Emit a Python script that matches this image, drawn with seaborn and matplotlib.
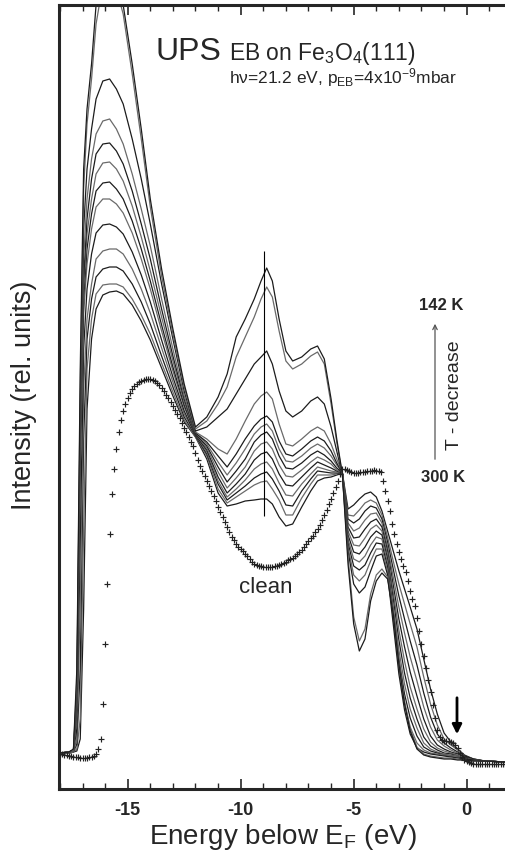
import numpy as np
import pandas as pd
import matplotlib
matplotlib.use("Agg")
import matplotlib.pyplot as plt
from matplotlib.ticker import MultipleLocator
import seaborn as sns

# ---------------- data (intensity in relative units) ----------------
# common energy grid for the temperature series (eV below E_F)
E_T = [-18.0, -17.6, -17.4, -17.25, -17.1, -16.95, -16.8, -16.6, -16.4, -16.1,
       -15.8, -15.5,
       -15.2, -14.8, -14.4, -14.0, -13.5, -13.0, -12.5, -12.0,
       -11.5, -11.0, -10.6, -10.2, -9.8, -9.4, -9.1, -8.85, -8.6, -8.3,
       -8.0, -7.7, -7.3, -6.9, -6.6, -6.3, -6.0, -5.75, -5.5,
       -5.25, -5.0, -4.75, -4.5, -4.25, -4.0, -3.75, -3.5, -3.25, -3.0,
       -2.75, -2.5, -2.2, -1.9, -1.6, -1.3, -1.0, -0.7, -0.4, -0.1, 0.3, 0.8, 1.7]

I_300K = [36, 36, 37, 38, 50, 180, 380, 450, 480, 494,
          497, 498,
          495, 484, 468, 449, 421, 393, 367, 352,
          330, 296, 283, 285, 288, 289, 290, 290, 285, 272, 263, 265, 282, 298, 308, 311, 312, 314, 316,
          280, 284, 290, 295, 297, 292, 278, 258, 238, 218, 200, 182, 160, 130, 100, 75, 56, 47, 40, 34, 30, 28, 27]
I_T02 = [36, 36, 37, 40, 70, 260, 420, 470, 495, 504,
         505, 505,
         502, 490, 474, 455, 426, 397, 369, 352,
         333, 300, 286, 292, 298, 304, 307, 308, 300, 289, 274, 274, 291, 305, 314, 314, 314, 315, 316,
         274, 273, 279, 286, 289, 286, 274, 252, 228, 205, 185, 165, 142, 112, 85, 64, 50, 44, 39, 33, 30, 28, 27]
I_T03 = [36, 36, 37, 45, 120, 350, 450, 490, 512, 520,
         522, 522,
         518, 505, 487, 465, 433, 402, 372, 353,
         335, 305, 289, 296, 303, 311, 315, 317, 310, 298, 284, 283, 298, 310, 318, 317, 316, 316, 316,
         270, 266, 270, 278, 283, 281, 270, 247, 220, 193, 170, 148, 124, 96, 72, 55, 46, 41, 37, 33, 30, 28, 27]
I_T04 = [36, 36, 37, 50, 180, 400, 470, 505, 530, 538,
         540, 540,
         535, 520, 500, 476, 441, 407, 375, 354,
         337, 308, 292, 300, 309, 320, 325, 327, 320, 306, 294, 293, 305, 315, 322, 320, 318, 317, 316,
         266, 258, 261, 269, 275, 276, 266, 242, 212, 182, 156, 132, 108, 82, 62, 49, 43, 39, 36, 32, 29, 28, 27]
I_T05 = [36, 37, 38, 60, 250, 440, 500, 535, 556, 564,
         565, 562,
         555, 537, 514, 487, 449, 412, 378, 354,
         339, 312, 296, 305, 315, 329, 335, 337, 330, 315, 304, 303, 312, 321, 327, 324, 321, 318, 316,
         262, 251, 252, 260, 267, 270, 262, 238, 204, 170, 142, 117, 93, 70, 53, 44, 40, 37, 35, 32, 29, 28, 27]
I_T06 = [36, 37, 38, 75, 320, 475, 525, 560, 582, 590,
         590, 585,
         576, 556, 530, 500, 458, 418, 382, 355,
         341, 317, 301, 311, 322, 338, 345, 347, 340, 324, 313, 312, 319, 327, 332, 329, 325, 319, 316,
         258, 244, 243, 251, 260, 264, 258, 234, 197, 159, 128, 102, 80, 60, 47, 41, 38, 36, 34, 31, 29, 28, 27]
I_T07 = [36, 37, 38, 80, 330, 490, 540, 575, 598, 606,
         607, 600,
         590, 568, 540, 508, 464, 422, 384, 355,
         343, 322, 307, 318, 330, 347, 354, 357, 350, 333, 321, 320, 326, 334, 338, 334, 328, 321, 316,
         254, 237, 235, 242, 252, 258, 254, 230, 190, 149, 116, 91, 70, 52, 43, 39, 36, 35, 33, 31, 29, 28, 27]
I_T08 = [36, 37, 38, 85, 340, 500, 555, 590, 615, 626,
         627, 620,
         608, 583, 552, 518, 472, 428, 387, 356,
         345, 327, 314, 326, 340, 355, 362, 365, 358, 340, 328, 327, 333, 341, 345, 341, 333, 324, 316,
         250, 230, 227, 233, 244, 252, 250, 226, 183, 139, 105, 80, 61, 46, 40, 37, 35, 34, 33, 31, 29, 28, 27]
I_T09 = [36, 37, 39, 90, 350, 510, 570, 610, 635, 645,
         646, 638,
         625, 598, 565, 530, 480, 433, 390, 356,
         347, 333, 322, 335, 350, 363, 370, 373, 367, 348, 335, 333, 340, 348, 352, 348, 338, 326, 316,
         246, 223, 219, 224, 236, 246, 245, 222, 176, 130, 95, 71, 53, 42, 38, 36, 34, 33, 32, 30, 29, 28, 27]
I_T10 = [36, 37, 39, 95, 360, 530, 590, 630, 655, 668,
         670, 660,
         645, 615, 580, 543, 490, 440, 393, 357,
         350, 340, 335, 350, 368, 385, 393, 397, 390, 365, 345, 343, 350, 358, 362, 358, 345, 330, 316,
         242, 214, 208, 214, 228, 240, 240, 218, 170, 122, 86, 62, 46, 39, 36, 35, 34, 33, 32, 30, 29, 28, 27]
I_T11 = [36, 37, 39, 100, 380, 560, 620, 660, 690, 708,
         710, 700,
         685, 650, 610, 565, 505, 450, 398, 358,
         362, 372, 380, 395, 410, 425, 432, 438, 425, 398, 378, 372, 378, 388, 392, 385, 362, 338, 314,
         238, 205, 196, 202, 218, 233, 235, 214, 165, 115, 79, 55, 41, 37, 35, 34, 33, 32, 31, 30, 29, 28, 27]
I_T12 = [36, 37, 39, 110, 400, 600, 665, 710, 765, 805,
         812, 800,
         775, 715, 650, 582, 513, 455, 402, 360,
         368, 385, 402, 432, 452, 472, 490, 502, 492, 458, 428, 420, 425, 433, 437, 425, 385, 347, 314,
         232, 172, 148, 160, 195, 214, 220, 212, 178, 128, 88, 60, 42, 35, 33, 32, 31, 31, 30, 29, 28, 28, 27]
I_142K = [36, 37, 40, 120, 420, 620, 680, 725, 784, 835,
          850, 835,
          784, 725, 660, 590, 520, 460, 405, 362,
          372, 392, 415, 452, 470, 490, 508, 521, 508, 470, 438, 428, 432, 440, 443, 430, 390, 350, 315,
          225, 165, 138, 150, 188, 208, 216, 210, 175, 125, 85, 58, 40, 34, 32, 31, 30, 30, 29, 29, 28, 28, 27]

T_series = [I_300K, I_T02, I_T03, I_T04, I_T05, I_T06, I_T07,
            I_T08, I_T09, I_T10, I_T11, I_T12, I_142K]
T_names = ["300 K", "T2", "T3", "T4", "T5", "T6", "T7",
           "T8", "T9", "T10", "T11", "T12", "142 K"]

# clean surface, sampled every 0.1 eV from -18.0 to 1.7 eV
E_clean = np.round(np.arange(-18.0, 1.75, 0.1), 1)
I_clean = [35, 35, 34, 34, 33, 33, 32, 32, 32, 31,
           31, 31, 31, 32, 32, 33, 35, 40, 50, 85,
           145, 205, 255, 295, 320, 340, 357, 369, 378, 385,
           391, 396, 400, 403, 405, 407, 408, 409, 410, 410,
           410, 409, 408, 406, 404, 401, 398, 394, 391, 387,
           383, 379, 375, 371, 366, 361, 357, 352, 347, 343,
           336, 329, 323, 318, 313, 308, 303, 298, 293, 288,
           282, 277, 272, 267, 262, 257, 252, 249, 245, 242,
           240, 238, 235, 233, 230, 227, 225, 224, 223, 223,
           222, 222, 222, 222, 222, 223, 223, 224, 225, 226,
           227, 229, 230, 231, 233, 235, 237, 239, 242, 245,
           248, 251, 253, 257, 260, 264, 269, 274, 279, 285,
           290, 296, 302, 308, 315, 320, 320, 319, 318, 317,
           316, 316, 316, 317, 317, 317, 318, 318, 318, 319,
           318, 318, 317, 308, 298, 288, 278, 265, 255, 245,
           237, 230, 223, 217, 208, 198, 190, 183, 171, 158,
           145, 133, 121, 109, 97, 84, 71, 59, 52, 49,
           48, 48, 48, 47, 46, 44, 41, 36, 32, 29,
           28, 27, 26, 25, 25, 25, 25, 25, 25, 25,
           25, 25, 25, 25, 25, 25, 25, 25]

X_TICKS = [-15, -10, -5, 0]
MARK_E = -8.95           # vertical marker line position
MARK_RANGE = (273, 538)  # its extent in intensity units

# ---------------- figure ----------------
sns.set_style("ticks")
plt.rcParams["font.family"] = ["Liberation Sans", "DejaVu Sans"]
plt.rcParams["mathtext.fontset"] = "custom"
plt.rcParams["mathtext.rm"] = "Liberation Sans"
plt.rcParams["mathtext.it"] = "Liberation Sans:italic"
plt.rcParams["mathtext.bf"] = "Liberation Sans:bold"

W, H = 506, 854
fig = plt.figure(figsize=(W / 100, H / 100), dpi=100)
ax = fig.add_axes([59 / W, 64 / H, (W - 59) / W, 784 / H])

rows = []
for name, vals in zip(T_names, T_series):
    for e, v in zip(E_T, vals):
        rows.append((name, e, v))
df = pd.DataFrame(rows, columns=["curve", "E", "I"])

colors = ["#1c1c1c" if i % 2 == 0 else "#6a6a6a" for i in range(len(T_names))]
sns.lineplot(data=df, x="E", y="I", hue="curve", hue_order=T_names,
             palette=colors, estimator=None, sort=False, legend=False,
             linewidth=0.9, ax=ax)

sns.scatterplot(x=E_clean, y=I_clean, marker="+", color="#222222",
                s=24, linewidth=0.85, ax=ax, zorder=3)

ax.vlines(MARK_E, *MARK_RANGE, color="black", linewidth=0.8)

ax.set_xlim(-18.04, 1.74)
ax.set_ylim(0, 784)
ax.set_xticks(X_TICKS)
ax.set_xticklabels([str(t) for t in X_TICKS], fontsize=13, fontweight="bold")
ax.xaxis.set_minor_locator(MultipleLocator(1))
ax.set_yticks([])
ax.tick_params(axis="x", which="major", direction="in", top=True, bottom=True,
               length=7, width=1.2, pad=9)
ax.tick_params(axis="x", which="minor", direction="in", top=True, bottom=True,
               length=4.5, width=1.0)
for s in ["left", "bottom", "top"]:
    ax.spines[s].set_linewidth(2.2)
ax.spines["right"].set_visible(False)

ax.set_xlabel(r"Energy below E$_\mathrm{F}$ (eV)", fontsize=20, labelpad=2)
ax.set_ylabel("Intensity (rel. units)", fontsize=19.5)
ax.yaxis.set_label_coords(-0.049, 0.504)


def fp(x, y):
    return x / W, 1 - y / H


fig.text(*fp(156, 60), "UPS", fontsize=23, ha="left", va="baseline")
fig.text(*fp(229, 60), r"EB on Fe$_\mathrm{3}$O$_\mathrm{4}$(111)", fontsize=16.5,
         ha="left", va="baseline")
fig.text(*fp(229, 83), r"hν=21.2 eV, p$_\mathrm{EB}$=4x10$^\mathrm{-9}$mbar",
         fontsize=12.5, ha="left", va="baseline")
fig.text(*fp(441, 310), "142 K", fontsize=12, fontweight="bold", ha="center", va="baseline")
fig.text(*fp(443, 482), "300 K", fontsize=12, fontweight="bold", ha="center", va="baseline")
fig.text(*fp(455, 395), "T - decrease", fontsize=14, rotation=90, ha="center", va="center")
fig.text(*fp(266, 588), "clean", fontsize=16, ha="center", va="center")

ax.annotate("", xy=(435, H - 322), xycoords="figure pixels",
            xytext=(435, H - 463), textcoords="figure pixels",
            arrowprops=dict(arrowstyle="->", color="#555555", lw=0.9,
                            mutation_scale=8))
ax.annotate("", xy=(457, H - 738), xycoords="figure pixels",
            xytext=(457, H - 696), textcoords="figure pixels",
            arrowprops=dict(arrowstyle="-|>", color="black", lw=2.0,
                            mutation_scale=14))

fig.savefig("out.png", dpi=100)
